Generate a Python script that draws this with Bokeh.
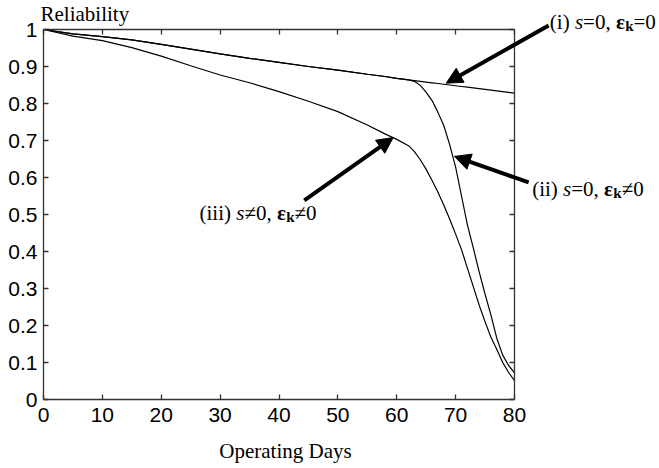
from bokeh.plotting import figure
from bokeh.models import (LinearAxis, FixedTicker, NumeralTickFormatter, Label,
                          Arrow, NormalHead, Range1d, CustomJSTickFormatter)
from bokeh.embed import file_html
from bokeh.resources import INLINE

# ---- data ----
days = [0, 5, 10, 15, 20, 25, 30, 35, 40, 45, 50, 55, 58, 60, 62, 63, 64, 65,
        66, 67, 68, 69, 70, 71, 72, 73, 74, 75, 76, 77, 78, 79, 80]
rel_i = [1.000, 0.988, 0.981, 0.972, 0.960, 0.947, 0.934, 0.922, 0.911, 0.900,
         0.890, 0.879, 0.873, 0.868, 0.864, 0.862, 0.860, 0.858, 0.856, 0.854,
         0.852, 0.850, 0.848, 0.846, 0.844, 0.842, 0.840, 0.838, 0.836, 0.834,
         0.832, 0.830, 0.828]
rel_ii = [1.000, 0.988, 0.981, 0.972, 0.960, 0.947, 0.934, 0.922, 0.911, 0.900,
          0.890, 0.879, 0.873, 0.868, 0.864, 0.860, 0.849, 0.830, 0.808, 0.776,
          0.740, 0.688, 0.628, 0.550, 0.472, 0.410, 0.345, 0.285, 0.228, 0.165,
          0.120, 0.092, 0.072]
rel_iii = [1.000, 0.982, 0.970, 0.951, 0.928, 0.902, 0.877, 0.856, 0.832, 0.806,
           0.778, 0.742, 0.718, 0.703, 0.686, 0.670, 0.648, 0.622, 0.592, 0.560,
           0.525, 0.487, 0.447, 0.405, 0.355, 0.305, 0.255, 0.210, 0.168, 0.135,
           0.100, 0.073, 0.051]
x_ticks = [0, 10, 20, 30, 40, 50, 60, 70, 80]
y_ticks = [0, 0.1, 0.2, 0.3, 0.4, 0.5, 0.6, 0.7, 0.8, 0.9, 1.0]
x_title = "Operating Days"
y_title = "Reliability"

SERIF = "Liberation Serif"
SANS = "Liberation Sans"
AX = "#333333"

# frame covers the whole canvas; axes are pinned with fixed_location
W, H = 659, 468
L, R, T, B = 43, 514, 29, 399          # pixel box of the data area
XMIN, XMAX, YMIN, YMAX = 0, 80, 0, 1
sx = (R - L) / (XMAX - XMIN)
sy = (B - T) / (YMAX - YMIN)
x_range = Range1d(XMIN - L / sx, XMAX + (W - R) / sx)
y_range = Range1d(YMIN - (H - B) / sy, YMAX + T / sy)

p = figure(width=W, height=H, output_backend="svg", toolbar_location=None,
           x_range=x_range, y_range=y_range, min_border=0,
           x_axis_location=None, y_axis_location=None)
p.grid.visible = False
p.outline_line_color = None
p.background_fill_color = "white"
p.border_fill_color = "white"

blank = CustomJSTickFormatter(code="return ''")


def make_axis(side, ticks, loc, bounds, labels):
    ax = LinearAxis(fixed_location=loc, bounds=bounds)
    ax.ticker = FixedTicker(ticks=ticks)
    ax.axis_line_color = AX
    ax.axis_line_width = 1.3
    ax.major_tick_line_color = AX
    ax.major_tick_line_width = 1.3
    ax.major_tick_in = 5
    ax.major_tick_out = 0
    ax.minor_tick_line_color = None
    if labels is None:
        ax.formatter = blank
    else:
        ax.formatter = labels
        ax.major_label_text_font = SANS
        ax.major_label_text_font_size = "21px"
        ax.major_label_text_color = "black"
    p.add_layout(ax, side)
    return ax


xb = make_axis("below", x_ticks, YMIN, (XMIN, XMAX), NumeralTickFormatter(format="0"))
xb.major_label_standoff = 8
yl = make_axis("left", y_ticks, XMIN, (YMIN, YMAX), NumeralTickFormatter(format="0.[0]"))
yl.major_label_standoff = 6
make_axis("above", x_ticks, YMAX, (XMIN, XMAX), None)
make_axis("right", y_ticks, XMAX, (YMIN, YMAX), None)

for ys in (rel_i, rel_ii, rel_iii):
    p.line(days, ys, line_color="black", line_width=1.2)

# axis titles
p.add_layout(Label(x=-3 / sx, y=YMAX + 16 / sy, text=y_title,
                   text_font=SERIF, text_font_size="21px",
                   text_baseline="middle", text_color="black"))
p.add_layout(Label(x=41.1, y=YMIN - 51 / sy, text=x_title,
                   text_font=SERIF, text_font_size="21px", text_align="center",
                   text_baseline="middle", text_color="black"))

# arrows
for xs, ys, xe, ye in [(85.8, 1.011, 68.4, 0.855),
                       (82.4, 0.587, 69.8, 0.657),
                       (44.3, 0.538, 59.4, 0.708)]:
    p.add_layout(Arrow(x_start=xs, y_start=ys, x_end=xe, y_end=ye,
                       line_width=4, line_color="black",
                       end=NormalHead(size=16, fill_color="black",
                                      line_color="black", line_width=1)))

# rich annotation labels
W_NORMAL = {"(": .333, ")": .333, "i": .278, " ": .25, "=": .564, "≠": .549,
            "0": .5, ",": .25}
W_ITALIC = {"s": .389}
W_BOLD = {"ε": .44, "k": .556}


def width(txt, style, size):
    table = {"normal": W_NORMAL, "italic": W_ITALIC, "bold": W_BOLD}[style]
    return sum(table.get(c, .5) for c in txt) * size


def rich_label(x, y, pieces):
    off = 0.0
    for txt, style, size, dy in pieces:
        p.add_layout(Label(x=x + off / sx, y=y + dy / sy, text=txt,
                           text_font=SERIF, text_font_size=f"{size}px",
                           text_font_style=style, text_baseline="middle",
                           text_color="black"))
        off += width(txt, style, size)


FS, SUB = 21, 15
rich_label(86.0, 1.019, [("(i) ", "normal", FS, 0), ("s", "italic", FS, 0),
                         ("=0, ", "normal", FS, 0), ("ε", "bold", FS, 0),
                         ("k", "bold", SUB, -4), ("=0", "normal", FS, 0)])
rich_label(83.0, 0.570, [("(ii) ", "normal", FS, 0), ("s", "italic", FS, 0),
                         ("=0, ", "normal", FS, 0), ("ε", "bold", FS, 0),
                         ("k", "bold", SUB, -4), ("≠0", "normal", FS, 0)])
rich_label(26.5, 0.503, [("(iii) ", "normal", FS, 0), ("s", "italic", FS, 0),
                         ("≠0, ", "normal", FS, 0), ("ε", "bold", FS, 0),
                         ("k", "bold", SUB, -4), ("≠0", "normal", FS, 0)])

open("out.html", "w").write(file_html(p, INLINE))
